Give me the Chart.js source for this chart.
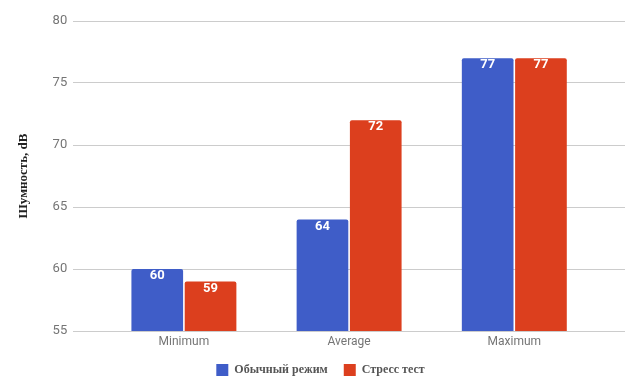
<!DOCTYPE html>
<html>
<head>
<meta charset="utf-8">
<script src="https://cdn.jsdelivr.net/npm/chart.js@4"></script>
<style>
  html, body { margin: 0; padding: 0; background: #fff; }
  #wrap { width: 635px; height: 389px; }
</style>
</head>
<body>
<div id="wrap"><canvas id="grafico" width="635" height="389"></canvas></div>
<script>
const categorias = ['Minimum', 'Average', 'Maximum'];
const normal = [60, 64, 77];
const stress = [59, 72, 77];
const yTicks = [55, 60, 65, 70, 75, 80];

const azul = '#3f5dc8';
const vermelho = '#dc3f1e';

// rótulos brancos dentro das barras
const rotulos = {
  id: 'rotulos',
  afterDatasetsDraw(chart) {
    const ctx = chart.ctx;
    ctx.save();
    ctx.fillStyle = '#fff';
    ctx.font = 'bold 13px Roboto, Arial, sans-serif';
    ctx.textAlign = 'center';
    ctx.textBaseline = 'middle';
    chart.data.datasets.forEach((ds, i) => {
      chart.getDatasetMeta(i).data.forEach((bar, j) => {
        ctx.fillText(String(ds.data[j].y), bar.x, bar.y + 7);
      });
    });
    ctx.restore();
  }
};

const pontos = arr => arr.map((v, i) => ({ x: i, y: v }));

new Chart(document.getElementById('grafico'), {
  type: 'bar',
  data: {
    datasets: [
      { label: 'Обычный режим', data: pontos(normal), backgroundColor: azul, borderRadius: 2, borderSkipped: 'bottom' },
      { label: 'Стресс тест', data: pontos(stress), backgroundColor: vermelho, borderRadius: 2, borderSkipped: 'bottom' }
    ]
  },
  options: {
    responsive: false,
    animation: false,
    layout: { padding: { top: 21, right: 10, left: 16, bottom: 3 } },
    datasets: { bar: { categoryPercentage: 0.645, barPercentage: 0.97 } },
    plugins: {
      legend: {
        position: 'bottom',
        labels: {
          boxWidth: 12,
          boxHeight: 12,
          padding: 16,
          color: '#555',
          font: { family: '"Liberation Serif", "DejaVu Serif", serif', weight: 'bold', size: 12 }
        }
      },
      tooltip: { enabled: false }
    },
    scales: {
      x: {
        type: 'linear',
        min: -0.67,
        max: 2.67,
        offset: false,
        afterBuildTicks: s => { s.ticks = categorias.map((c, i) => ({ value: i })); },
        afterFit: s => { s.height = 17; },
        ticks: {
          callback: v => categorias[v],
          color: '#757575',
          font: { family: 'Roboto, Arial, sans-serif', size: 12 },
          padding: 4
        },
        grid: { display: false, drawTicks: false },
        border: { display: false }
      },
      y: {
        min: 55,
        max: 80,
        afterBuildTicks: s => { s.ticks = yTicks.map(v => ({ value: v })); },
        ticks: {
          color: '#757575',
          font: { family: 'Roboto, Arial, sans-serif', size: 13 },
          padding: 6
        },
        grid: { color: '#cccccc', drawTicks: false },
        border: { display: false },
        title: {
          display: true,
          text: 'Шумность, dB',
          color: '#222',
          font: { family: '"Liberation Serif", "DejaVu Serif", serif', weight: 'bold', size: 13 },
          padding: { top: 0, bottom: 15 }
        }
      }
    }
  },
  plugins: [rotulos]
});
</script>
</body>
</html>
